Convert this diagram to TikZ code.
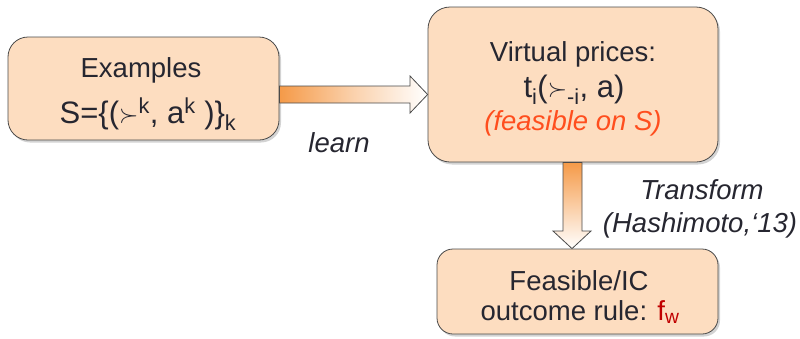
\documentclass[tikz,border=0pt]{standalone}
\usepackage{fontspec}
\setmainfont{Liberation Sans}
\usetikzlibrary{shadows,calc}
\definecolor{boxfill}{HTML}{FDDDC0}
\definecolor{boxline}{HTML}{4A4A4A}
\definecolor{txt}{HTML}{262630}
\definecolor{arrorange}{HTML}{F59A48}
\definecolor{redorange}{HTML}{FF4E1E}
\definecolor{darkred}{HTML}{C00000}
\tikzset{
  box/.style={draw=boxline, line width=0.8pt, fill=boxfill, rectangle,
    drop shadow={shadow xshift=2pt, shadow yshift=-2.5pt, opacity=0.35}},
  lbl/.style={anchor=base, text=txt, inner sep=0pt, font=\fontsize{27.5}{30}\selectfont},
  big/.style={anchor=base, text=txt, inner sep=0pt, font=\fontsize{31}{33}\selectfont},
  blockarrow/.style={draw=boxline, line width=0.8pt},
}
\newcommand{\mysucc}{\raisebox{0.5pt}{\fontsize{24}{24}\selectfont$\succ$}}
\begin{document}
\begin{tikzpicture}[x=1pt,y=-1pt]
\useasboundingbox (0,0) rectangle (800,338);
% boxes
\node[box, rounded corners=20pt, minimum width=271pt, minimum height=103pt] (ex) at (143.5,88.5) {};
\node[box, rounded corners=22pt, minimum width=290pt, minimum height=155pt] (vp) at (573,84.5) {};
\node[box, rounded corners=16pt, minimum width=281pt, minimum height=85pt] (fr) at (577.5,291.5) {};
% horizontal block arrow
\shade[blockarrow, left color=arrorange, right color=white, middle color=arrorange!45!white]
  ($(ex.east |- 0,86)$) -- (410,86) -- (410,76) -- ($(vp.west |- 0,94.5)$)
  -- (410,113) -- (410,103) -- ($(ex.east |- 0,103)$) -- cycle;
% vertical block arrow
\shade[blockarrow, top color=arrorange, bottom color=white]
  ($(vp.south -| 563,0)$) -- (563,231) -- (553,231) -- ($(fr.north -| 572,0)$)
  -- (591,231) -- (582,231) -- ($(vp.south -| 582,0)$) -- cycle;
% texts
\node[lbl] (t1) at (141,77) {Examples};
\node[big] (t2) at (148,123) {S=\{(\mysucc\textsuperscript{k}, a\textsuperscript{k} )\}\textsubscript{k}};
\node[lbl] (t3) at (573,61) {Virtual prices:};
\node[big] (t4) at (574,97) {t\textsubscript{i}(\mysucc\textsubscript{-i}, a)};
\node[lbl, text=redorange, font=\fontsize{27.5}{30}\selectfont\itshape] (t5) at (573,130) {(feasible on S)};
\node[lbl, font=\fontsize{27.5}{30}\selectfont\itshape] (t6) at (339,152) {learn};
\node[lbl, font=\fontsize{27.5}{30}\selectfont\itshape] (t7) at (702,199) {Transform};
\node[lbl, font=\fontsize{27.5}{30}\selectfont\itshape] (t8) at (700,232) {(Hashimoto,‘13)};
\node[lbl] (t9) at (579,290) {Feasible/IC};
\node[lbl] (t10) at (580,320) {outcome rule: \textcolor{darkred}{f\textsubscript{w}}};
\end{tikzpicture}
\end{document}
